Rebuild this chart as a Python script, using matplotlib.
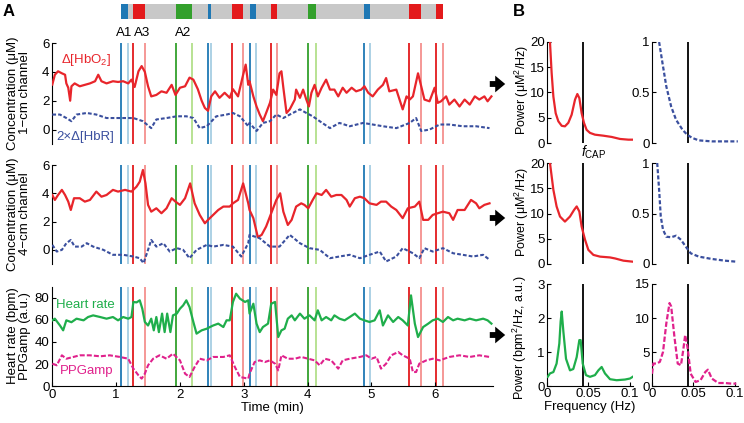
import matplotlib
matplotlib.use("Agg")
import matplotlib.pyplot as plt
import numpy as np

plt.rcParams['font.family'] = ['Liberation Sans', 'DejaVu Sans']
plt.rcParams['mathtext.fontset'] = 'custom'
plt.rcParams['mathtext.rm'] = 'Liberation Sans'
plt.rcParams['mathtext.it'] = 'Liberation Sans:italic'
plt.rcParams['font.size'] = 9

# ---------------- data ----------------
# HbO2, 1-cm channel (time in min, uM)
t_hbo1 = [0.00,0.04,0.09,0.15,0.20,0.22,0.25,0.28,0.30,0.35,0.43,0.51,0.59,0.67,0.72,0.77,0.85,0.95,1.03,1.11,
          1.19,1.24,1.29,1.35,1.40,1.45,1.50,1.55,1.63,1.71,1.79,1.87,1.93,2.00,2.08,2.15,2.21,2.28,2.34,2.39,
          2.44,2.49,2.55,2.62,2.70,2.78,2.83,2.91,2.99,3.03,3.07,
          3.09,3.15,3.20,3.25,3.30,3.35,3.41,3.46,3.51,3.56,3.59,3.62,3.67,3.72,3.80,3.82,3.88,3.93,3.98,4.02,
          4.06,4.11,4.16,4.22,4.29,4.35,4.42,4.48,4.55,4.61,4.69,4.76,4.84,4.89,4.95,5.02,5.10,5.18,5.23,5.28,
          5.39,5.49,5.55,5.60,5.65,5.73,5.78,5.83,5.91,5.99,6.04,6.09,6.17,6.22,6.30,6.38,6.46,6.54,6.62,6.69,
          6.77,6.82,6.88]
v_hbo1 = [3.12,3.8,4.04,3.9,3.8,3.2,2.9,2.0,3.0,3.2,3.0,3.1,3.2,3.35,3.8,3.35,3.2,3.35,3.3,3.35,
          3.2,3.46,2.95,4.04,4.4,4.0,3.0,2.3,2.4,2.65,2.55,3.1,2.4,2.9,3.0,3.6,3.46,2.8,2.0,1.5,
          1.3,2.3,2.65,2.2,2.55,2.2,2.8,2.3,3.8,4.5,3.1,
          3.35,2.3,1.6,1.04,0.58,1.15,1.85,2.77,2.4,3.9,4.04,2.9,1.15,1.4,2.08,2.77,2.2,2.77,2.08,1.6,
          2.55,3.1,2.3,2.9,3.46,2.77,2.77,2.3,2.9,2.55,2.9,2.65,2.77,3.0,2.55,2.3,2.77,3.1,3.57,2.65,
          2.77,1.4,2.3,2.08,2.3,3.9,3.0,2.08,1.96,2.9,1.85,1.96,2.3,1.73,2.08,1.6,2.08,1.73,2.3,2.08,
          2.3,1.96,2.3]

# 2 x HbR, 1-cm channel
t_hbr1 = [0.00,0.12,0.22,0.30,0.38,0.54,0.69,0.85,1.01,1.16,1.27,1.42,1.55,1.63,1.79,1.95,2.10,2.21,2.31,2.42,
          2.57,2.73,2.83,2.94,3.07,3.09,3.20,3.30,3.41,3.51,3.62,3.72,3.88,3.98,4.08,4.19,4.35,4.50,4.66,4.87,
          5.02,5.18,5.39,5.60,5.70,5.78,5.91,6.07,6.22,6.43,6.64,6.85]
v_hbr1 = [1.04,1.04,0.8,0.58,1.04,1.15,1.04,0.8,0.8,0.8,0.8,0.58,0.1,0.7,0.8,0.92,0.92,0.8,0.1,0.23,
          0.92,1.04,1.15,0.92,0.23,0.46,-0.1,0.46,0.58,1.04,0.8,1.04,1.4,1.15,0.92,0.58,0.1,0.46,0.23,0.46,
          0.35,0.23,0.1,0.46,0.8,-0.1,0.0,0.35,0.35,0.23,0.23,0.1]

# HbO2, 4-cm channel
t_hbo4 = [0.00,0.04,0.09,0.15,0.20,0.25,0.29,0.34,0.43,0.51,0.59,0.69,0.77,0.85,0.95,1.03,1.14,1.24,1.32,1.37,
          1.42,1.46,1.50,1.55,1.63,1.71,1.79,1.87,1.93,2.00,2.08,2.16,2.23,2.31,2.39,2.44,2.52,2.60,2.68,2.78,
          2.83,2.91,2.99,3.07,
          3.09,3.15,3.22,3.28,3.35,3.43,3.51,3.57,3.62,3.69,3.75,3.82,3.90,3.95,4.01,4.08,4.14,4.22,4.29,4.37,
          4.45,4.53,4.61,4.66,4.74,4.82,4.89,4.97,5.08,5.15,5.23,5.31,5.39,5.49,5.57,5.68,5.75,5.81,5.89,5.96,
          6.04,6.12,6.22,6.28,6.35,6.46,6.56,6.64,6.69,6.77,6.85]
v_hbo4 = [3.88,3.53,3.88,4.24,3.88,3.41,2.82,3.65,3.65,3.41,3.53,4.12,3.76,3.88,4.24,4.12,4.24,4.12,4.47,4.82,
          5.65,4.7,3.18,2.7,2.94,2.59,2.94,3.65,3.41,3.18,3.65,4.7,3.29,2.47,1.88,2.12,2.47,2.82,3.06,3.06,
          3.29,3.53,4.7,3.29,
          2.82,2.24,0.9,1.06,1.65,2.59,3.53,4.0,2.7,1.76,2.12,3.06,3.29,3.18,2.94,3.53,4.0,3.88,4.24,3.76,
          3.88,3.88,3.53,3.06,3.65,3.76,3.65,3.29,3.18,3.41,3.41,3.06,2.82,2.24,2.94,3.06,3.41,2.12,2.12,2.47,
          2.59,2.7,2.59,2.12,2.82,2.82,3.53,3.29,2.94,3.18,3.29]

# 2 x HbR, 4-cm channel
t_hbr4 = [0.00,0.07,0.15,0.22,0.29,0.35,0.46,0.54,0.64,0.80,0.95,1.11,1.27,1.37,1.43,1.50,1.55,1.63,1.74,1.84,
          1.95,2.05,2.15,2.26,2.42,2.52,2.68,2.83,2.96,3.07,3.09,3.25,3.41,3.56,3.72,3.88,4.03,4.19,4.35,4.50,
          4.66,4.82,4.97,5.13,5.23,5.39,5.49,5.65,5.75,5.83,5.96,6.12,6.28,6.43,6.59,6.75,6.85]
v_hbr4 = [0.35,-0.12,0.0,0.47,0.7,0.23,0.23,0.47,0.23,0.0,-0.35,-0.35,-0.47,-0.59,-0.94,0.0,0.7,0.23,0.47,-0.12,
          0.12,0.0,-0.59,0.0,0.35,0.23,0.35,0.23,-0.47,0.47,1.06,0.82,0.23,0.23,1.06,0.47,0.12,0.0,-0.59,-0.47,
          -0.35,-0.59,-0.35,-0.12,-0.82,-0.47,0.12,-0.24,-0.59,0.12,-0.12,0.12,-0.24,-0.35,-0.47,-0.35,-0.7]

# Heart rate (bpm)
t_hr = [0.00,0.04,0.12,0.17,0.22,0.30,0.38,0.49,0.56,0.64,0.75,0.85,0.95,1.03,1.11,1.19,1.24,1.27,1.32,1.37,
        1.41,1.45,1.50,1.55,1.59,1.63,1.67,1.72,1.76,1.80,1.85,1.89,1.95,2.00,2.05,2.10,2.15,2.21,2.26,2.34,
        2.42,2.47,2.52,2.60,2.68,2.73,2.78,2.83,2.88,2.94,3.02,3.07,
        3.09,3.15,3.20,3.25,3.30,3.38,3.43,3.49,3.54,3.59,3.64,3.69,3.75,3.80,3.88,3.95,4.03,4.11,4.16,4.22,
        4.29,4.37,4.42,4.50,4.58,4.66,4.74,4.82,4.89,4.97,5.05,5.13,5.18,5.26,5.34,5.42,5.49,5.57,5.62,5.68,
        5.73,5.81,5.89,5.96,6.04,6.12,6.20,6.28,6.35,6.46,6.54,6.64,6.75,6.82,6.88]
v_hr = [59.7,61.2,55,50.6,59.7,58,61.2,59.7,62.7,64.2,62.7,61.2,62.7,59.7,62.7,61.2,62.7,76.4,76,77.9,
        70.3,58.2,55,61.2,50.6,62.7,49,65.8,49,65.8,49,64.2,65.8,70.3,73.3,77.9,71.8,58.2,47.6,50.6,
        52.1,53.6,55,56.7,53.6,59.7,59.7,76.4,83.9,79.4,76.4,77.9,
        65.8,74.8,56.7,49,53.6,56.7,74.8,76.4,44.5,50.6,52.1,61.2,64.2,59.7,65.8,61.2,64.2,59.7,68.8,59.7,
        62.7,59.7,64.2,61.2,59.7,62.7,65.8,61.2,59.7,58.2,59.7,68.8,55,64.2,58.2,62.7,59.7,55,82.4,56.7,
        44.5,53.6,56.7,59.7,61.2,58.2,62.7,59.7,61.2,59.7,61.2,59.7,61.2,59.7,56.7]

# PPG amplitude (a.u.)
t_ppg = [0.00,0.07,0.15,0.22,0.33,0.43,0.59,0.75,0.90,1.06,1.19,1.27,1.35,1.40,1.45,1.50,1.58,1.68,1.79,1.89,
         2.00,2.08,2.15,2.23,2.31,2.42,2.52,2.68,2.78,2.86,2.94,3.07,
         3.09,3.17,3.25,3.33,3.41,3.49,3.54,3.59,3.69,3.80,3.90,4.01,4.11,4.19,4.27,4.37,4.48,4.55,4.66,4.82,
         4.92,5.00,5.08,5.15,5.23,5.31,5.42,5.49,5.60,5.65,5.70,5.75,5.86,5.96,6.07,6.22,6.38,6.54,6.69,6.85]
v_ppg = [20.3,18.8,27.9,24.8,26.4,27.9,27.9,27,27.9,26.4,24.8,15.8,9.7,6.7,11.2,18.8,24.8,27.9,24.8,29.4,
         23.3,11.2,8.2,17.3,24.8,23.3,26.4,26.4,27.9,17.3,8.2,6.7,
         11.2,21.8,23.3,21.8,23.3,20.3,14.2,27.9,24.8,24.8,26.4,24.8,23.3,18.8,24.8,23.3,15.8,23.3,24.8,26.4,
         27.9,24.8,26.4,15.8,20.3,27.9,30.9,27.9,24.8,12.7,12.7,20.3,23.3,24.8,23.3,26.4,27.9,26.4,27.9,26.4]

# events: start (dark line) and end (light line) times, min
ev_start = [1.075, 1.258, 1.936, 2.445, 2.823, 3.105, 3.423, 4.012, 4.883, 5.587, 6.016]
ev_end   = [1.189, 1.451, 2.181, 2.490, 2.990, 3.188, 3.527, 4.138, 4.972, 5.781, 6.119]
ev_type  = ['b', 'r', 'g', 'b', 'r', 'b', 'r', 'g', 'b', 'r', 'r']
ev_labels = ['A1', 'A3', 'A2']
ev_label_t = [1.12, 1.40, 2.05]

# spectra (frequency Hz, power)
f_hbo1 = [0.0021,0.0036,0.0056,0.0077,0.0105,0.0137,0.0178,0.0217,0.0258,0.0298,0.0339,0.0367,0.0391,0.0419,
          0.0447,0.0479,0.052,0.058,0.0681,0.0782,0.0883,0.0984,0.1036]
p_hbo1 = [24,20,13.9,9.2,5.9,4.3,3.4,3.3,4.0,5.6,8.6,9.7,8.9,5.9,4.0,2.6,2.0,1.65,1.45,1.2,0.8,0.66,0.66]
f_hbr1 = [0.0086,0.0133,0.0173,0.0232,0.0291,0.037,0.0428,0.0487,0.0566,0.0723,0.0881,0.1038]
p_hbr1 = [1.0,0.76,0.56,0.36,0.23,0.13,0.08,0.05,0.026,0.016,0.016,0.016]
f_hbo4 = [0.0036,0.0077,0.0116,0.0157,0.0217,0.0278,0.0327,0.0359,0.0391,0.0419,0.046,0.05,0.0561,0.0641,
          0.0762,0.0823,0.0924,0.1036]
p_hbo4 = [20,14.7,11.4,9.4,8.4,9.4,10.7,11.4,10.4,7.4,4.8,2.8,1.8,1.46,1.3,1.1,0.66,0.46]
f_hbr4 = [0.0063,0.0086,0.0106,0.0133,0.0173,0.0232,0.0291,0.035,0.041,0.0468,0.0566,0.0723,0.0881,0.1019]
p_hbr4 = [1.0,0.735,0.47,0.34,0.27,0.265,0.28,0.24,0.17,0.106,0.073,0.05,0.033,0.023]
f_hr = [0.0008,0.0036,0.0077,0.0116,0.0149,0.0165,0.0178,0.0198,0.023,0.0278,0.0318,0.0359,0.0391,0.0407,0.0432,
        0.0471,0.052,0.058,0.0621,0.0661,0.0701,0.0762,0.0842,0.0943,0.1004,0.1036]
p_hr = [0.27,0.37,0.41,0.66,1.25,1.9,2.19,1.6,0.8,0.46,0.5,0.85,1.35,1.35,0.66,0.32,0.27,0.32,0.46,0.56,0.37,
        0.2,0.17,0.19,0.22,0.27]
f_ppg = [0.0,0.0016,0.0055,0.0095,0.0133,0.0173,0.0212,0.0232,0.0271,0.0311,0.035,0.0378,0.0401,0.0428,
         0.0468,0.0527,0.0586,0.0645,0.0676,0.0723,0.0802,0.0881,0.096,0.1019]
p_ppg = [1.8,3.3,3.3,3.55,5.0,9.2,12.2,11.7,7.25,3.3,3.06,5.3,7.5,5.8,1.8,0.6,0.84,2.07,2.4,1.1,0.44,0.44,
         0.35,0.35]
f_cap = 0.043

# ---------------- style ----------------
C_HBO = '#e8252b'
C_HBR = '#3a4f9e'
C_HR = '#1fae4b'
C_PPG = '#e0218c'
ev_col_dark = {'b': '#1f78b4', 'r': '#e31a1c', 'g': '#33a02c'}
ev_col_light = {'b': '#a6cee3', 'r': '#f4908e', 'g': '#b2df8a'}

W, H = 744, 423
fig = plt.figure(figsize=(W / 100, H / 100), dpi=100)
TICK_FS = 9.5
LAB_FS = 9.5


def rect(x0, y0, x1, y1):
    return [x0 / W, 1 - y1 / H, (x1 - x0) / W, (y1 - y0) / H]


def style(ax, bottom=False):
    for s in ['top', 'right']:
        ax.spines[s].set_visible(False)
    ax.spines['bottom'].set_visible(bottom)
    ax.spines['left'].set_linewidth(0.8)
    ax.spines['bottom'].set_linewidth(0.8)
    ax.tick_params(direction='in', length=3, width=0.8, labelsize=TICK_FS, pad=2)
    if not bottom:
        ax.tick_params(axis='x', bottom=False, labelbottom=False)
    ax.patch.set_alpha(0)


def events(ax):
    for s, e, k in zip(ev_start, ev_end, ev_type):
        ax.axvline(s, color=ev_col_dark[k], lw=1.3, zorder=1)
        ax.axvline(e, color=ev_col_light[k], lw=1.3, zorder=1)


XL = (0, 6.9)
axA1 = fig.add_axes(rect(52.3, 43, 492.7, 144))
axA2 = fig.add_axes(rect(52.3, 165, 492.7, 264))
axA3 = fig.add_axes(rect(52.3, 287, 492.7, 386))

dash_hbr = (0, (1.8, 1.0))
dash_ppg = (0, (2.4, 1.0))

for ax, th, vh, tr, vr in [(axA1, t_hbo1, v_hbo1, t_hbr1, v_hbr1), (axA2, t_hbo4, v_hbo4, t_hbr4, v_hbr4)]:
    style(ax)
    events(ax)
    ax.plot(th, vh, color=C_HBO, lw=1.6, zorder=3)
    ax.plot(tr, vr, color=C_HBR, lw=1.5, ls=dash_hbr, zorder=3)
    ax.set_xlim(XL)
    ax.set_ylim(-1, 6)
    ax.set_yticks([0, 2, 4, 6])

style(axA3, bottom=True)
events(axA3)
axA3.plot(t_hr, v_hr, color=C_HR, lw=1.6, zorder=3)
axA3.plot(t_ppg, v_ppg, color=C_PPG, lw=1.5, ls=dash_ppg, zorder=3)
axA3.set_xlim(XL)
axA3.set_ylim(0, 90)
axA3.set_yticks([0, 20, 40, 60, 80])
axA3.set_xticks([0, 1, 2, 3, 4, 5, 6])
axA3.set_xlabel('Time (min)', fontsize=LAB_FS, labelpad=1)

# series labels
axA1.text(0.13, 4.8, 'Δ[HbO$_2$]', color=C_HBO, fontsize=9.5, va='center')
axA1.text(0.06, -0.5, '2×Δ[HbR]', color=C_HBR, fontsize=9.5, va='center')
axA3.text(0.06, 74, 'Heart rate', color=C_HR, fontsize=9.5, va='center')
axA3.text(0.12, 14, 'PPGamp', color=C_PPG, fontsize=9.5, va='center')

# top event bar
axBar = fig.add_axes(rect(52.3, 4, 492.7, 19))
axBar.set_xlim(XL)
axBar.set_ylim(0, 1)
axBar.axis('off')
axBar.barh(0.5, ev_end[-1] - ev_start[0], left=ev_start[0], height=1, color='#c8c8c8', lw=0)
for s, e, k in zip(ev_start, ev_end, ev_type):
    axBar.barh(0.5, e - s, left=s, height=1, color=ev_col_dark[k], lw=0)

for lab, t in zip(ev_labels, ev_label_t):
    axA1.text(t, 6.25, lab, ha='center', va='bottom', fontsize=9.5)

# y labels panel A
ylab_x = 19 / W
for yc, txt in [(93, 'Concentration (μM)\n1−cm channel'), (214, 'Concentration (μM)\n4−cm channel'),
                (336, 'Heart rate (bpm)\nPPGamp (a.u.)')]:
    fig.text(ylab_x, 1 - yc / H, txt, rotation=90, ha='center', va='center',
             fontsize=LAB_FS, linespacing=1.05, multialignment='center')

# ---------------- panel B ----------------
rows = [(42, 143), (163, 264), (284, 386)]
left_x = (547, 633)
right_x = (652, 738)
FXL = (0, 0.104)
specs = [
    (f_hbo1, p_hbo1, C_HBO, '-', (0, 20), [0, 5, 10, 15, 20], f_hbr1, p_hbr1, C_HBR, dash_hbr, (0, 1), [0, 0.5, 1]),
    (f_hbo4, p_hbo4, C_HBO, '-', (0, 20), [0, 5, 10, 15, 20], f_hbr4, p_hbr4, C_HBR, dash_hbr, (0, 1), [0, 0.5, 1]),
    (f_hr, p_hr, C_HR, '-', (0, 3), [0, 1, 2, 3], f_ppg, p_ppg, C_PPG, dash_ppg, (0, 15), [0, 5, 10, 15]),
]
axes_left = []
for i, ((y0, y1), sp) in enumerate(zip(rows, specs)):
    fl, pl, cl, lsl, yll, ytl, fr, pr, cr, lsr, ylr, ytr = sp
    last = (i == 2)
    axl = fig.add_axes(rect(left_x[0], y0, left_x[1], y1))
    axr = fig.add_axes(rect(right_x[0], y0, right_x[1], y1))
    for ax, f, p, c, ls, yl, yt in [(axl, fl, pl, cl, lsl, yll, ytl), (axr, fr, pr, cr, lsr, ylr, ytr)]:
        style(ax, bottom=last)
        ax.plot(f, p, color=c, lw=1.6, ls=ls, zorder=3)
        ax.axvline(f_cap, color='k', lw=1.3, zorder=2)
        ax.set_xlim(FXL)
        ax.set_ylim(yl)
        ax.set_yticks(yt)
        ax.set_yticklabels(['%g' % v for v in yt])
        ax.tick_params(labelsize=9.5, pad=1.5)
        if last:
            ax.set_xticks([0, 0.05, 0.1])
            ax.set_xticklabels(['0', '0.05', '0.1'])
    axes_left.append(axl)

axes_left[2].set_xlabel('Frequency (Hz)', fontsize=LAB_FS, labelpad=1)
axes_left[0].text(f_cap - 0.0015, -0.01, r'$f_{\mathrm{CAP}}$', fontsize=10, ha='left', va='top',
                  transform=axes_left[0].get_xaxis_transform())

fig.text(522 / W, 1 - 90 / H, 'Power (μM$^2$/Hz)', rotation=90, ha='center', va='center', fontsize=9)
fig.text(522 / W, 1 - 212 / H, 'Power (μM$^2$/Hz)', rotation=90, ha='center', va='center', fontsize=9)
fig.text(520 / W, 1 - 338 / H, 'Power (bpm$^2$/Hz, a.u.)', rotation=90, ha='center', va='center', fontsize=9)

# arrows
for yy in [84, 218, 335]:
    fig.patches.append(matplotlib.patches.FancyArrowPatch(
        (487, H - yy), (508, H - yy), transform=None, figure=fig,
        arrowstyle='simple,head_length=0.6,head_width=1.0,tail_width=0.35', mutation_scale=12,
        color='k', lw=0))

# panel letters
fig.text(9 / W, 1 - 11 / H, 'A', fontsize=12, fontweight='bold', ha='center', va='center')
fig.text(519 / W, 1 - 12 / H, 'B', fontsize=12, fontweight='bold', ha='center', va='center')

fig.savefig('out.png', dpi=100)
